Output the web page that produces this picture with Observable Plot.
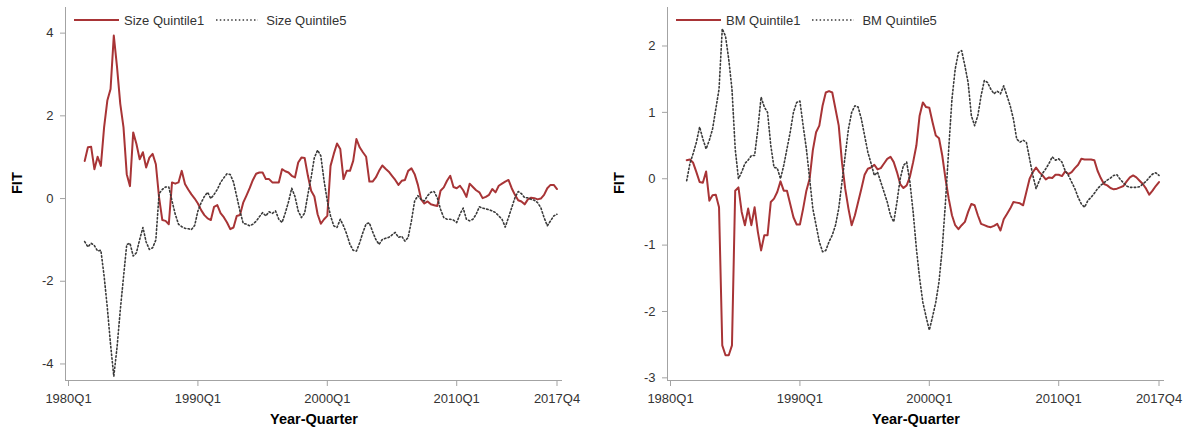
<!DOCTYPE html>
<html>
<head>
<meta charset="utf-8">
<script src="https://cdn.jsdelivr.net/npm/d3@7"></script>
<script src="https://cdn.jsdelivr.net/npm/@observablehq/plot@0.6"></script>
<style>
  html, body { margin: 0; padding: 0; background: #fff; }
  body { font-family: "Liberation Sans", Arial, Helvetica, sans-serif; }
  #wrap { position: relative; width: 1183px; height: 431px; overflow: hidden; }
  .panel { position: absolute; top: 0; width: 581px; height: 431px; }
  .legend { position: absolute; top: 12px; height: 16px; display: flex; align-items: center;
            font-size: 13px; color: #333; white-space: nowrap; }
  .legend svg { display: block; }
</style>
</head>
<body>
<div id="wrap"></div>
<script>
// ---------------- data ----------------
const firstQuarter = "1981Q2";   // first plotted quarter (last is 2017Q4)

const sizeQ1 = [0.91,1.24,1.25,0.71,1.01,0.79,1.72,2.37,2.65,3.94,3.18,2.29,1.72,0.59,0.30,1.60,1.32,0.95,1.12,0.75,
  0.99,1.08,0.83,0.02,-0.52,-0.54,-0.62,0.39,0.36,0.39,0.67,0.35,0.22,0.10,0.00,-0.12,-0.28,-0.40,-0.48,-0.52,
  -0.20,-0.16,-0.35,-0.45,-0.58,-0.74,-0.70,-0.42,-0.40,-0.10,0.07,0.25,0.45,0.60,0.63,0.63,0.47,0.47,0.39,0.39,
  0.39,0.71,0.66,0.63,0.55,0.51,0.87,0.99,0.98,0.55,0.19,0.05,-0.38,-0.61,-0.50,-0.42,0.79,1.08,1.33,1.20,
  0.47,0.67,0.67,0.91,1.44,1.24,1.12,1.01,0.41,0.41,0.51,0.67,0.80,0.72,0.65,0.55,0.45,0.33,0.43,0.45,
  0.67,0.73,0.59,0.33,-0.02,-0.12,-0.07,-0.14,-0.16,-0.18,0.19,0.27,0.43,0.55,0.28,0.25,0.31,0.20,0.04,0.36,
  0.28,0.20,0.15,0.01,0.04,0.09,0.23,0.15,0.31,0.36,0.41,0.45,0.25,0.09,-0.04,-0.07,-0.14,-0.02,0.02,0.01,
  -0.02,0.00,0.09,0.25,0.33,0.33,0.23];

const sizeQ5 = [-1.04,-1.17,-1.08,-1.14,-1.27,-1.25,-1.87,-2.64,-3.53,-4.30,-3.60,-2.70,-1.90,-1.11,-1.08,-1.39,-1.31,-0.99,-0.70,-1.05,
  -1.23,-1.19,-1.00,0.12,0.22,0.28,0.28,-0.06,-0.38,-0.62,-0.68,-0.72,-0.73,-0.75,-0.65,-0.30,-0.10,0.05,0.15,0.00,
  0.10,0.22,0.39,0.50,0.60,0.58,0.40,0.05,-0.30,-0.60,-0.62,-0.66,-0.62,-0.55,-0.44,-0.34,-0.42,-0.32,-0.36,-0.30,
  -0.50,-0.58,-0.35,-0.08,0.25,0.05,-0.30,-0.46,-0.35,0.10,0.51,0.99,1.17,1.03,0.43,-0.06,-0.42,-0.66,-0.70,-0.50,
  -0.66,-0.86,-1.11,-1.25,-1.27,-1.07,-0.82,-0.61,-0.59,-0.80,-0.99,-1.11,-0.99,-0.96,-0.94,-0.88,-0.82,-0.94,-0.91,-1.03,
  -0.94,-0.54,-0.06,0.07,-0.02,-0.06,0.07,0.15,0.17,0.02,-0.26,-0.46,-0.50,-0.50,-0.52,-0.58,-0.38,-0.23,-0.50,-0.54,
  -0.50,-0.38,-0.20,-0.23,-0.25,-0.27,-0.30,-0.34,-0.42,-0.50,-0.69,-0.46,-0.22,0.02,0.17,0.12,0.02,0.02,-0.02,-0.04,
  -0.10,-0.22,-0.46,-0.66,-0.54,-0.42,-0.38];

const bmQ1 = [0.28,0.29,0.24,0.10,-0.05,-0.06,0.11,-0.33,-0.25,-0.24,-0.43,-2.51,-2.66,-2.66,-2.51,-0.18,-0.13,-0.50,-0.70,-0.45,
  -0.70,-0.43,-0.80,-1.08,-0.85,-0.85,-0.35,-0.30,-0.20,-0.04,-0.18,-0.18,-0.38,-0.58,-0.69,-0.69,-0.45,-0.18,0.00,0.43,
  0.70,0.80,1.10,1.30,1.32,1.30,1.05,0.80,0.25,-0.15,-0.45,-0.70,-0.55,-0.35,-0.15,0.06,0.15,0.17,0.21,0.14,
  0.16,0.23,0.30,0.33,0.25,0.10,-0.08,-0.14,-0.10,0.03,0.25,0.50,0.95,1.15,1.08,1.07,0.85,0.65,0.61,0.35,
  0.00,-0.30,-0.55,-0.70,-0.76,-0.70,-0.65,-0.50,-0.38,-0.40,-0.55,-0.68,-0.70,-0.72,-0.73,-0.71,-0.68,-0.78,-0.61,-0.53,
  -0.45,-0.35,-0.36,-0.37,-0.40,-0.20,0.00,0.10,0.17,0.10,0.05,-0.01,0.02,0.01,0.06,0.06,0.04,0.11,0.07,0.10,
  0.16,0.21,0.30,0.29,0.29,0.29,0.28,0.12,0.01,-0.08,-0.10,-0.14,-0.16,-0.15,-0.13,-0.11,-0.04,0.02,0.05,0.02,
  -0.03,-0.08,-0.15,-0.24,-0.18,-0.11,-0.05];

const bmQ5 = [-0.03,0.23,0.38,0.55,0.78,0.60,0.45,0.58,0.75,1.05,1.35,2.26,2.15,1.80,1.35,0.45,0.00,0.10,0.23,0.28,
  0.35,0.35,0.75,1.23,1.08,1.00,0.50,0.17,0.16,0.00,0.20,0.45,0.70,1.00,1.15,1.17,0.80,0.45,0.00,-0.45,
  -0.70,-0.95,-1.10,-1.08,-0.95,-0.85,-0.70,-0.45,-0.05,0.35,0.75,1.00,1.10,1.08,0.90,0.65,0.40,0.23,0.05,0.10,
  -0.05,-0.20,-0.35,-0.55,-0.65,-0.35,0.00,0.20,0.25,-0.05,-0.50,-1.05,-1.50,-1.86,-2.08,-2.28,-2.08,-1.86,-1.55,-1.05,
  -0.35,0.45,1.20,1.65,1.90,1.93,1.70,1.45,0.95,0.80,0.95,1.25,1.48,1.45,1.35,1.28,1.32,1.28,1.40,1.25,
  1.10,0.90,0.60,0.55,0.58,0.55,0.30,0.05,-0.15,-0.03,0.08,0.15,0.23,0.33,0.28,0.30,0.25,0.12,0.05,-0.05,
  -0.15,-0.28,-0.38,-0.43,-0.33,-0.28,-0.22,-0.15,-0.10,-0.06,-0.02,0.01,0.05,0.06,-0.01,-0.06,-0.11,-0.13,-0.13,-0.13,
  -0.12,-0.08,-0.04,0.02,0.07,0.09,0.05];

const xTickLabels = ["1980Q1", "1990Q1", "2000Q1", "2010Q1", "2017Q4"];
const sizeTicks = [-4, -2, 0, 2, 4];
const bmTicks = [-3, -2, -1, 0, 1, 2];
const sizeLegend = ["Size Quintile1", "Size Quintile5"];
const bmLegend = ["BM Quintile1", "BM Quintile5"];
const yLabel = "FIT";
const xLabel = "Year-Quarter";

// ---------------- helpers ----------------
const RED = "#a83436";
const DOT = "#3a3a3a";
const DASH = "1.5,2.3";
const AXIS = "#a3a3a3";

function qIndex(label) {            // quarters since 1980Q1
  const y = +label.slice(0, 4), q = +label.slice(5);
  return (y - 1980) * 4 + (q - 1);
}
const xTicks = xTickLabels.map(qIndex);
const xDomain = [-0.93, 152.7];

function series(values) {
  const s = qIndex(firstQuarter);
  return values.map((v, k) => ({i: s + k, v}));
}

function panel(q1, q5, yDomain, yTicks, legendLabels, left) {
  const holder = document.createElement("div");
  holder.className = "panel";
  holder.style.left = left + "px";

  const chart = Plot.plot({
    width: 581, height: 431,
    marginLeft: 65, marginRight: 19, marginTop: 7, marginBottom: 51,
    x: {domain: xDomain, label: null},
    y: {domain: yDomain, label: null},
    style: {fontFamily: "'Liberation Sans', Arial, Helvetica, sans-serif", fontSize: "13px",
            background: "white", overflow: "visible"},
    marks: [
      Plot.ruleX([xDomain[0]], {stroke: AXIS, strokeWidth: 1}),
      Plot.ruleY([yDomain[0]], {stroke: AXIS, strokeWidth: 1}),
      Plot.axisX({ticks: xTicks, tickFormat: d => xTickLabels[xTicks.indexOf(d)],
                  tickSize: 6, tickPadding: 7, stroke: AXIS, fill: "#333", label: null}),
      Plot.axisY({ticks: yTicks, tickFormat: d => String(d),
                  tickSize: 5, tickPadding: 7, stroke: AXIS, fill: "#333", label: null}),
      Plot.line(series(q1), {x: "i", y: "v", stroke: RED, strokeWidth: 2}),
      Plot.line(series(q5), {x: "i", y: "v", stroke: DOT, strokeWidth: 1.6, strokeDasharray: DASH}),
      Plot.text([yLabel], {text: d => d, frameAnchor: "left", dx: -48, rotate: -90,
                           fontWeight: "bold", fontSize: 14.5, fill: "#000"}),
      Plot.text([xLabel], {text: d => d, frameAnchor: "bottom", dy: 43,
                           fontWeight: "bold", fontSize: 14.5, fill: "#000"})
    ]
  });
  holder.appendChild(chart);

  const lg = document.createElement("div");
  lg.className = "legend";
  lg.style.left = "74px";
  lg.innerHTML =
    `<svg width="45" height="4"><line x1="0" x2="45" y1="2" y2="2" stroke="${RED}" stroke-width="2"/></svg>` +
    `<span style="margin-left:5px">${legendLabels[0]}</span>` +
    `<svg width="42" height="4" style="margin-left:12px"><line x1="0" x2="42" y1="2" y2="2" stroke="${DOT}" stroke-width="1.6" stroke-dasharray="${DASH}"/></svg>` +
    `<span style="margin-left:8px">${legendLabels[1]}</span>`;
  holder.appendChild(lg);
  return holder;
}

const wrap = document.getElementById("wrap");
wrap.appendChild(panel(sizeQ1, sizeQ5, [-4.40, 4.62], sizeTicks, sizeLegend, 0));
wrap.appendChild(panel(bmQ1, bmQ5, [-3.04, 2.58], bmTicks, bmLegend, 602));
</script>
</body>
</html>
